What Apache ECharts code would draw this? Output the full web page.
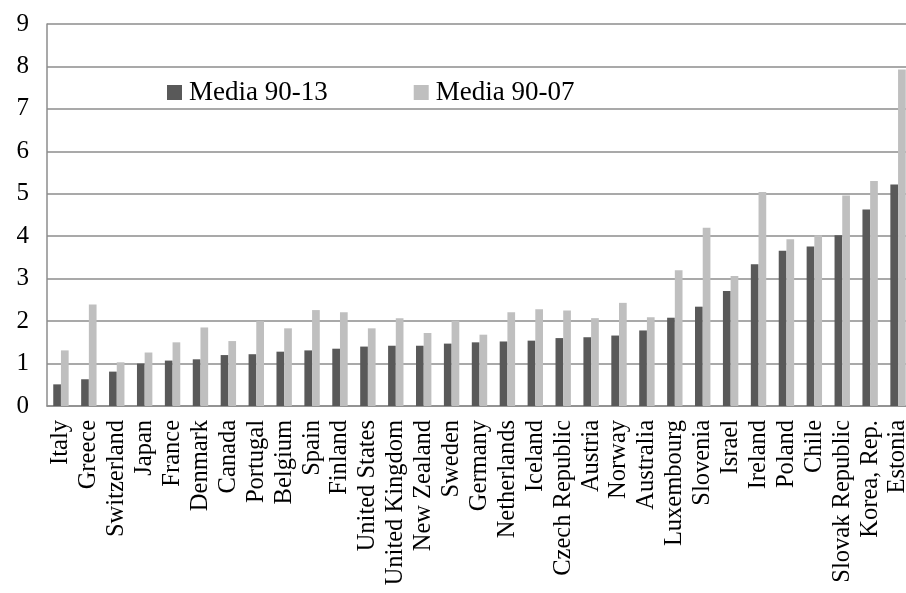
<!DOCTYPE html>
<html><head><meta charset="utf-8">
<script src="https://cdn.jsdelivr.net/npm/echarts@6/dist/echarts.min.js"></script>
<style>html,body{margin:0;padding:0;background:#fff}#c{width:906px;height:593px}</style>
</head><body><div id="c"></div>
<script>
var categories = ["Italy","Greece","Switzerland","Japan","France","Denmark","Canada","Portugal","Belgium","Spain","Finland","United States","United Kingdom","New Zealand","Sweden","Germany","Netherlands","Iceland","Czech Republic","Austria","Norway","Australia","Luxembourg","Slovenia","Israel","Ireland","Poland","Chile","Slovak Republic","Korea, Rep.","Estonia"];
var media9013 = [0.51,0.63,0.81,1.00,1.07,1.10,1.20,1.22,1.28,1.31,1.35,1.40,1.42,1.42,1.47,1.50,1.52,1.54,1.60,1.62,1.66,1.78,2.08,2.34,2.71,3.34,3.66,3.76,4.02,4.63,5.22];
var media9007 = [1.31,2.39,1.03,1.26,1.50,1.85,1.53,2.00,1.83,2.26,2.21,1.83,2.07,1.72,2.01,1.68,2.21,2.28,2.25,2.07,2.43,2.09,3.20,4.20,3.06,5.04,3.93,4.02,4.96,5.30,7.93];
var yTicks = [0,1,2,3,4,5,6,7,8,9];

var font = "Liberation Serif";
var chart = echarts.init(document.getElementById('c'), null, {renderer:'canvas'});
chart.setOption({
  animation:false,
  textStyle:{fontFamily:font},
  grid:{left:47,top:24,height:382,width:865,containLabel:false,outerBoundsMode:'none'},
  legend:{
    left:167, top:79, padding:0, itemWidth:15, itemHeight:15, itemGap:86,
    icon:'rect',
    textStyle:{fontFamily:font,fontSize:27,color:'#000',padding:[0,0,0,2]},
    data:['Media 90-13','Media 90-07']
  },
  xAxis:{
    type:'category', data:categories,
    axisLine:{lineStyle:{color:'#8c8c8c',width:1.5}},
    axisTick:{show:false},
    axisLabel:{rotate:90,interval:0,fontFamily:font,fontSize:24.5,color:'#000',margin:14}
  },
  yAxis:{
    type:'value', min:yTicks[0], max:yTicks[yTicks.length-1], interval:1,
    axisLine:{show:true,lineStyle:{color:'#8c8c8c',width:1.5}},
    axisTick:{show:false},
    splitLine:{lineStyle:{color:'#8c8c8c',width:1.5}},
    axisLabel:{fontFamily:font,fontSize:25,color:'#000',margin:18}
  },
  series:[
    {name:'Media 90-13',type:'bar',data:media9013,barWidth:7.7,barGap:'0%',itemStyle:{color:'#595959'}},
    {name:'Media 90-07',type:'bar',data:media9007,barWidth:7.7,barGap:'0%',itemStyle:{color:'#bfbfbf'}}
  ]
});
</script></body></html>
